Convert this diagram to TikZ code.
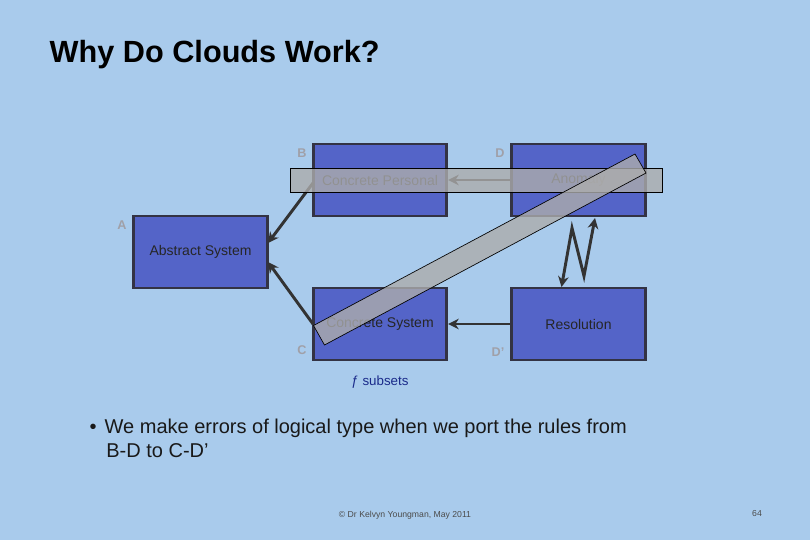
\documentclass[tikz,border=0pt]{standalone}
\usepackage{fontspec}
\setmainfont{Liberation Sans}
\usetikzlibrary{arrows.meta}
\definecolor{bg}{HTML}{A9CBEC}
\definecolor{boxf}{HTML}{5464C8}
\definecolor{boxd}{HTML}{333344}
\definecolor{lbl}{HTML}{A0A0A8}
\definecolor{fb}{HTML}{1A2A8A}
\tikzset{
  bx/.style={draw=boxd,line width=2.2pt,fill=boxf,minimum width=100pt,minimum height=54pt,inner sep=0pt,font=\fontsize{10.5}{12}\selectfont,text=black!85},
  lb/.style={font=\bfseries\fontsize{9.5}{11}\selectfont,text=lbl},
  ar/.style={draw=black!80,line width=2.2pt,-{Stealth[length=8pt,width=8pt]}},
  bar/.style={draw=black,line width=0.5pt,fill=gray!65,fill opacity=0.8}
}
\begin{document}
\begin{tikzpicture}[x={(0.75pt,0)},y={(0,-0.75pt)}]
\fill[bg] (0,0) rectangle (810,540);
\useasboundingbox (0,0) rectangle (810,540);
\node[anchor=west,font=\bfseries\fontsize{23}{26}\selectfont] (title) at (45,55) {Why Do Clouds Work?};
\node[bx] (B) at (380,180) {Concrete Personal};
\node[bx] (D) at (578.5,180) {Anomaly};
\node[bx] (A) at (200.5,252) {Abstract System};
\node[bx] (C) at (380,324) {Concrete System};
\node[bx] (Dp) at (578.5,324) {Resolution};
\node[lb] (lB) at (302,153) {B};
\node[lb] (lD) at (500,153) {D};
\node[lb] (lA) at (122,225) {A};
\node[lb] (lC) at (302,350) {C};
\node[lb] (lDp) at (498,352) {D’};
\coordinate (bs) at (313,183);
\coordinate (cs) at (313,324);
\draw[ar] (bs) -- (268,243);
\draw[ar] (cs) -- (268,262);
\draw[ar] (Dp.west) -- (C.east);
\draw[ar] (D.west) -- (B.east);
\coordinate (z1) at (561.5,287);
\coordinate (z2) at (572,228);
\coordinate (z3) at (584,276);
\coordinate (z4) at (595,218);
\draw[draw=black!80,line width=2.2pt,{Stealth[length=8pt,width=8pt]}-{Stealth[length=8pt,width=8pt]}] (z1) -- (z2) -- (z3) -- (z4);
\draw[bar] (290,168) rectangle (662,192);
\draw[bar] (313.5,325.5) -- (635,154) -- (646,173) -- (324.5,345) -- cycle;
\node[font=\fontsize{10}{12}\selectfont,text=fb] (fs) at (380,382) {ƒ subsets};
\node[anchor=north west,align=left,font=\fontsize{15}{18.5}\selectfont,text=black!90] (bul) at (85,414) {•\hspace{6pt}We make errors of logical type when we port the rules from\\\hspace{12.5pt}B-D to C-D’};
\node[font=\fontsize{6.5}{8}\selectfont,text=black!70] (ft) at (405,515) {© Dr Kelvyn Youngman, May 2011};
\node[font=\fontsize{6.5}{8}\selectfont,text=black!70] (pg) at (757,514) {64};
\end{tikzpicture}
\end{document}
